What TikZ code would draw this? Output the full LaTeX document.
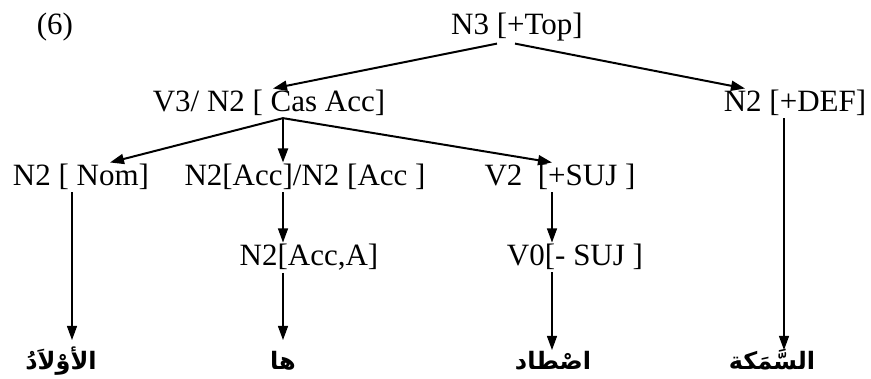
\documentclass[tikz,border=0pt]{standalone}
\usepackage{fontspec}
\setmainfont{Liberation Serif}
\newfontfamily\arabicfont[Script=Arabic]{DejaVu Sans}
\TeXXeTstate=1
\usetikzlibrary{arrows.meta,calc}

\begin{document}
\begin{tikzpicture}[x=1pt,y=-1pt,
    lbl/.style={anchor=base,inner sep=0pt,outer sep=2pt,font=\fontsize{31}{36}\selectfont},
    word/.style={anchor=base,inner sep=0pt,font=\fontsize{24}{28}\selectfont\arabicfont\bfseries},
    arr/.style={-{Triangle[length=14pt,width=10pt]},line width=2pt},
    stem/.style={-{Triangle[length=14pt,width=10pt]},line width=1.1pt}]
    \useasboundingbox (0,0) rectangle (871,379);

    % top of the tree
    \node[lbl] (ex) at (55,35) {(6)};
    \node[lbl] (n3) at (517,35) {N3 [+Top]};

    % second row
    \node[lbl] (v3) at (269,112) {V3/ N2 [ Cas Acc]};
    \node[lbl] (def) at (795,112) {N2 [+DEF]};
    \draw[arr] ($(n3.south)+(-20,0)$) -- ($(v3.north)+(4,0)$);
    \draw[arr] ($(n3.south)+(-2,0)$) -- ($(def.north)+(-50,0)$);

    % third row
    \node[lbl] (nom) at (81,186) {N2 [ Nom]};
    \node[lbl] (acc) at (305,186) {N2[Acc]/N2 [Acc ]};
    \node[lbl] (v2) at (560,186) {V2\ \ [+SUJ ]};
    \draw[arr] ($(v3.south)+(14,0)$) -- ($(nom.north)+(29,0)$);
    \draw[arr] ($(v3.south)+(14,0)$) -- ($(acc.north)+(-22,0)$);
    \draw[arr] ($(v3.south)+(14,0)$) -- ($(v2.north)+(-8,0)$);

    % fourth row
    \node[lbl] (acca) at (309,266) {N2[Acc,A]};
    \node[lbl] (v0) at (575,266) {V0[- SUJ ]};
    \draw[stem] ($(acc.south)+(-22,0)$) -- ($(acca.north)+(-26,0)$);
    \draw[stem] ($(v2.south)+(-8,0)$) -- ($(v0.north)+(-23,0)$);

    % Arabic words
    \node[word] (w1) at (61,370) {\beginR الأوْلاَدُ\endR};
    \node[word] (w2) at (283,370) {\beginR ها\endR};
    \node[word] (w3) at (553,370) {\beginR اصْطاد\endR};
    \node[word] (w4) at (772,370) {\beginR السَّمَكة\endR};
    \draw[stem] ($(nom.south)+(-9,0)$) -- ($(w1.base)+(11,-30)$);
    \draw[stem] ($(acca.south)+(-26,0)$) -- ($(w2.base)+(0,-30)$);
    \draw[stem] ($(v0.south)+(-23,0)$) -- ($(w3.base)+(-1,-20)$);
    \draw[stem] ($(def.south)+(-11,0)$) -- ($(w4.base)+(12,-20)$);
\end{tikzpicture}
\end{document}
